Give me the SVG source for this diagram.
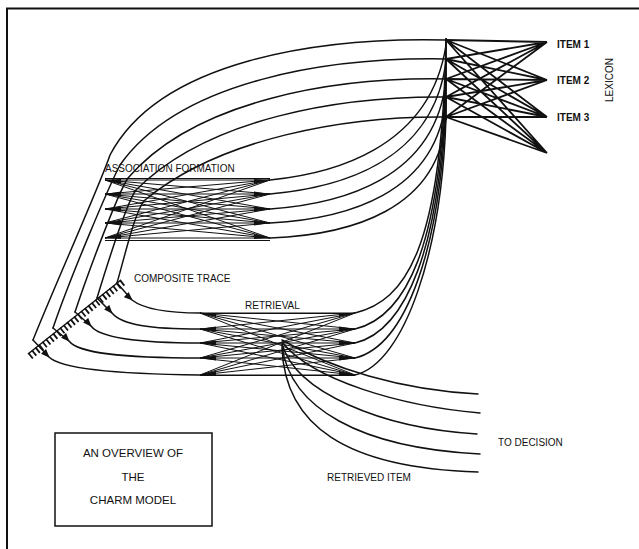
<svg xmlns="http://www.w3.org/2000/svg" width="639" height="549" viewBox="0 0 639 549">
<defs>
<style>
.ln{fill:none;stroke:#111;stroke-width:1.5;stroke-linecap:round}
.fan{fill:none;stroke:#111;stroke-width:1}
.lex{fill:none;stroke:#111;stroke-width:1.8}
.wd{fill:#111;stroke:none}
.t{font-family:"Liberation Sans",Arial,sans-serif;font-size:10px;fill:#111}
.ti{font-family:"Liberation Sans",Arial,sans-serif;font-size:10px;font-weight:bold;fill:#111}
.tb{font-family:"Liberation Sans",Arial,sans-serif;font-size:11.5px;fill:#111}
</style>
<marker id="ah" viewBox="0 0 10 8" refX="9" refY="4" markerWidth="9" markerHeight="7" markerUnits="userSpaceOnUse" orient="auto"><path d="M0,0L10,4L0,8z" fill="#111"/></marker>
</defs>
<rect width="639" height="549" fill="#fff"/>
<path id="frame" d="M639,8.5 L7,8.5 L7,549" fill="none" stroke="#111" stroke-width="2"/>

<g id="lexicon">
<path class="lex" d="M446,38 L446,120"/>
<path class="lex" d="M446,40L547,42 M446,40L547,80 M446,40L547,117 M446,40L547,153
M446,59L547,42 M446,59L547,80 M446,59L547,117 M446,59L547,153
M446,79L547,42 M446,79L547,80 M446,79L547,117 M446,79L547,153
M446,97L547,42 M446,97L547,80 M446,97L547,117 M446,97L547,153
M446,117L547,42 M446,117L547,80 M446,117L547,117 M446,117L547,153"/>
<text class="ti" x="557" y="47.5">ITEM 1</text>
<text class="ti" x="557" y="84">ITEM 2</text>
<text class="ti" x="557" y="121">ITEM 3</text>
<text class="t" x="609" y="83.5" text-anchor="middle" transform="rotate(-90 609 80)">LEXICON</text>
</g>

<g id="association-formation">
<path class="fan" d="M105,178.5L270,178.5 M105,240.5L270,240.5"/>
<path class="fan" d="M105,180L270,180 M105,180L270,194 M105,180L270,209 M105,180L270,223 M105,180L270,238
M105,194L270,180 M105,194L270,194 M105,194L270,209 M105,194L270,223 M105,194L270,238
M105,209L270,180 M105,209L270,194 M105,209L270,209 M105,209L270,223 M105,209L270,238
M105,223L270,180 M105,223L270,194 M105,223L270,209 M105,223L270,223 M105,223L270,238
M105,238L270,180 M105,238L270,194 M105,238L270,209 M105,238L270,223 M105,238L270,238"/>
<path class="wd" d="M105,180L121,179L121,184z M105,194L121,191.5L121,196.5z M105,209L121,206.5L121,211.5z M105,223L121,220.5L121,225.5z M105,238L121,234L121,239z
M270,180L254,179L254,184z M270,194L254,191.5L254,196.5z M270,209L254,206.5L254,211.5z M270,223L254,220.5L254,225.5z M270,238L254,234L254,239z"/>
<text class="t" x="105" y="172" font-size="10.4">ASSOCIATION FORMATION</text>
</g>

<g id="composite-trace">
<path fill="none" stroke="#111" stroke-width="1.5" d="M28,354 L121,280"/>
<path fill="none" stroke="#111" stroke-width="7" stroke-dasharray="1.8 2.7" d="M29.9,356.3 L122.9,282.3"/>
<text class="t" x="134" y="282">COMPOSITE TRACE</text>
</g>

<g id="retrieval">
<path class="fan" d="M200,313.5L355,313.5 M200,375.5L355,375.5"/>
<path class="fan" d="M200,313L355,313 M200,313L355,329 M200,313L355,343 M200,313L355,358 M200,313L355,375
M200,329L355,313 M200,329L355,329 M200,329L355,343 M200,329L355,358 M200,329L355,375
M200,343L355,313 M200,343L355,329 M200,343L355,343 M200,343L355,358 M200,343L355,375
M200,358L355,313 M200,358L355,329 M200,358L355,343 M200,358L355,358 M200,358L355,375
M200,375L355,313 M200,375L355,329 M200,375L355,343 M200,375L355,358 M200,375L355,375"/>
<path class="wd" d="M200,313L216,313L216,317z M200,329L216,326.5L216,331.5z M200,343L216,340.5L216,345.5z M200,358L216,355.5L216,360.5z M200,375L216,371L216,375z
M355,313L339,313L339,317z M355,329L339,326.5L339,331.5z M355,343L339,340.5L339,345.5z M355,358L339,355.5L339,360.5z M355,375L339,371L339,375z"/>
<text class="t" x="245" y="309">RETRIEVAL</text>
</g>

<g id="overview-box">
<rect x="55" y="433" width="157" height="93" fill="none" stroke="#111" stroke-width="1.5"/>
<text class="tb" x="133" y="457" text-anchor="middle">AN OVERVIEW OF</text>
<text class="tb" x="133" y="481" text-anchor="middle">THE</text>
<text class="tb" x="133" y="504" text-anchor="middle">CHARM MODEL</text>
</g>

<g id="labels">
<text class="t" x="498" y="446">TO DECISION</text>
<text class="t" x="327" y="481" font-size="10.5">RETRIEVED ITEM</text>
</g>

<g id="connectors">
<path class="ln" d="M446,40 C320,37 160,60 110,155 C100,185 55,285 33,340"/>
<path class="ln" d="M446,59 C330,57 180,80 120,165 C109,186 70,278 53,328"/>
<path class="ln" d="M446,79 C335,77 195,100 128,178 C118,193 89,270 75,312"/>
<path class="ln" d="M446,97 C340,96 208,118 136,190 C127,202 108,262 97,298"/>
<path class="ln" d="M446,117 C345,116 220,138 145,200 C136,208 125,255 117,283"/>
<path class="ln" d="M270,180 C330,174 430,150 446,45"/>
<path class="ln" d="M270,194 C335,188 432,165 446,62"/>
<path class="ln" d="M270,209 C340,204 435,180 446,80"/>
<path class="ln" d="M270,223 C345,219 437,195 446,98"/>
<path class="ln" d="M270,238 C350,235 440,210 446,117"/>
<path class="ln" d="M355,313 C405,301 442,250 446,40"/>
<path class="ln" d="M355,329 C405,317 442,250 446,59"/>
<path class="ln" d="M355,343 C405,331 442,250 446,79"/>
<path class="ln" d="M355,358 C405,346 442,250 446,97"/>
<path class="ln" d="M355,375 C405,363 442,250 446,117"/>
<path class="ln" marker-mid="url(#ah)" d="M117,283 L132,300 C145,310 170,313 200,313"/>
<path class="ln" marker-mid="url(#ah)" d="M97,298 L112,313 C122,325 150,329 200,329"/>
<path class="ln" marker-mid="url(#ah)" d="M75,312 L91,326 C100,338 140,343 200,343"/>
<path class="ln" marker-mid="url(#ah)" d="M53,328 L69,341 C78,353 120,358 200,358"/>
<path class="ln" marker-mid="url(#ah)" d="M33,340 L49,357 C60,368 110,374 200,375"/>
<path class="ln" d="M282,340 C330,368 400,390 478,394"/>
<path class="ln" d="M282,342 C312,380 400,406 480,413"/>
<path class="ln" d="M282,344 C296,392 380,428 477,434"/>
<path class="ln" d="M282,346 C290,408 360,448 480,454"/>
<path class="ln" d="M282,348 C285,425 345,468 478,472"/>
</g>
</svg>
